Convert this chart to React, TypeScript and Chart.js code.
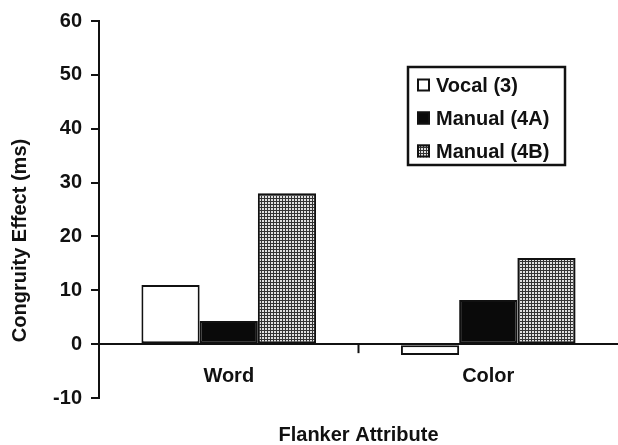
import React, { useEffect, useRef } from 'react';
import { Chart, registerables } from 'chart.js';

Chart.register(...registerables);

const categories = ['Word', 'Color'];
const seriesLabels = ['Vocal (3)', 'Manual (4A)', 'Manual (4B)'];
const vocal = [11, -2];
const manual4A = [4.3, 8.2];
const manual4B = [28, 16];
const yTicks = [-10, 0, 10, 20, 30, 40, 50, 60];
const yTitle = 'Congruity Effect (ms)';
const xTitle = 'Flanker Attribute';

const FONT = '"Liberation Sans", Arial, Helvetica, sans-serif';
const INK = '#111111';

function makeGridPattern(): CanvasPattern | string {
  const c = document.createElement('canvas');
  c.width = 3;
  c.height = 3;
  const g = c.getContext('2d');
  if (!g) return '#888';
  g.fillStyle = '#e0e0e0';
  g.fillRect(0, 0, 3, 3);
  g.fillStyle = '#333333';
  g.fillRect(0, 0, 3, 1);
  g.fillRect(0, 0, 1, 3);
  const p = g.createPattern(c, 'repeat');
  return p || '#888';
}

export default function App() {
  const ref = useRef<HTMLCanvasElement | null>(null);

  useEffect(() => {
    if (!ref.current) return;
    const pattern = makeGridPattern();
    const fills = ['#ffffff', '#0a0a0a', pattern];
    const series = [vocal, manual4A, manual4B];

    const legendPlugin = {
      id: 'insideLegend',
      afterDraw(chart: any) {
        const ctx = chart.ctx;
        const ca = chart.chartArea;
        const bx = ca.left + 309;
        const by = ca.top + 46;
        const bw = 157;
        const bh = 98;
        ctx.save();
        ctx.lineWidth = 2.5;
        ctx.strokeStyle = INK;
        ctx.fillStyle = '#ffffff';
        ctx.fillRect(bx, by, bw, bh);
        ctx.strokeRect(bx, by, bw, bh);
        ctx.font = `bold 20px ${FONT}`;
        ctx.textBaseline = 'middle';
        ctx.textAlign = 'left';
        chart.data.datasets.forEach((ds: any, i: number) => {
          const cy = by + 18 + i * 33;
          const sx = bx + 9;
          const s = 13;
          ctx.fillStyle = ds.backgroundColor;
          ctx.fillRect(sx, cy - s / 2, s, s);
          ctx.lineWidth = 2;
          ctx.strokeStyle = INK;
          ctx.strokeRect(sx + 1, cy - s / 2 + 1, s - 2, s - 2);
          ctx.fillStyle = INK;
          ctx.fillText(ds.label, sx + s + 6, cy + 1);
        });
        ctx.restore();
      },
    };

    const decorPlugin = {
      id: 'decor',
      afterDraw(chart: any) {
        const ctx = chart.ctx;
        const xs = chart.scales.x;
        const ys = chart.scales.y;
        const ca = chart.chartArea;
        const y0 = ys.getPixelForValue(0);
        ctx.save();
        // category boundary tick on the zero line
        const mx = (xs.getPixelForValue(0) + xs.getPixelForValue(1)) / 2;
        ctx.strokeStyle = INK;
        ctx.lineWidth = 2;
        ctx.beginPath();
        ctx.moveTo(mx, y0);
        ctx.lineTo(mx, y0 + 9);
        ctx.stroke();
        // category labels between the zero line and the axis bottom
        ctx.font = `bold 20px ${FONT}`;
        ctx.fillStyle = INK;
        ctx.textAlign = 'center';
        ctx.textBaseline = 'middle';
        (chart.data.labels as string[]).forEach((lab, i) => {
          ctx.fillText(lab, xs.getPixelForValue(i), y0 + 32);
        });
        // y axis title
        ctx.translate(20, (ca.top + ca.bottom) / 2 + 31);
        ctx.rotate(-Math.PI / 2);
        ctx.fillText(yTitle, 0, 0);
        ctx.restore();
      },
    };

    const chart = new Chart(ref.current, {
      type: 'bar',
      data: {
        labels: categories,
        datasets: series.map((d, i) => ({
          label: seriesLabels[i],
          data: d,
          backgroundColor: fills[i] as any,
          borderColor: INK,
          borderWidth: 2,
          borderSkipped: false,
          barPercentage: 1,
          categoryPercentage: 0.673,
        })),
      },
      options: {
        responsive: true,
        maintainAspectRatio: false,
        animation: false,
        layout: { padding: { top: 16, right: 0, left: 0, bottom: 0 } },
        plugins: {
          legend: { display: false },
          tooltip: { enabled: false },
        },
        scales: {
          x: {
            grid: { display: false, drawTicks: false },
            border: { display: false },
            ticks: { display: false },
            title: {
              display: true,
              text: xTitle,
              color: INK,
              font: { family: FONT, size: 20, weight: 'bold', lineHeight: 1 },
              padding: { top: 0, bottom: 0 },
            },
            afterFit: (s: any) => {
              s.height = 47;
            },
          },
          y: {
            min: -10,
            max: 60,
            afterBuildTicks: (s: any) => {
              s.ticks = yTicks.map((v) => ({ value: v }));
            },
            border: { display: true, color: INK, width: 2 },
            grid: {
              color: (c: any) => (c.tick && c.tick.value === 0 ? INK : 'rgba(0,0,0,0)'),
              lineWidth: 2,
              tickColor: INK,
              tickWidth: 2,
              tickLength: 8,
              drawTicks: true,
            },
            ticks: {
              color: INK,
              font: { family: FONT, size: 20, weight: 'bold' },
              padding: 9,
            },
            afterFit: (s: any) => {
              s.width = 99;
            },
          },
        },
      },
      plugins: [legendPlugin, decorPlugin],
    });
    return () => chart.destroy();
  }, []);

  return (
    <div style={{ position: 'absolute', left: 0, top: 0, width: 618, height: 445, background: '#fff' }}>
      <canvas ref={ref} />
    </div>
  );
}
